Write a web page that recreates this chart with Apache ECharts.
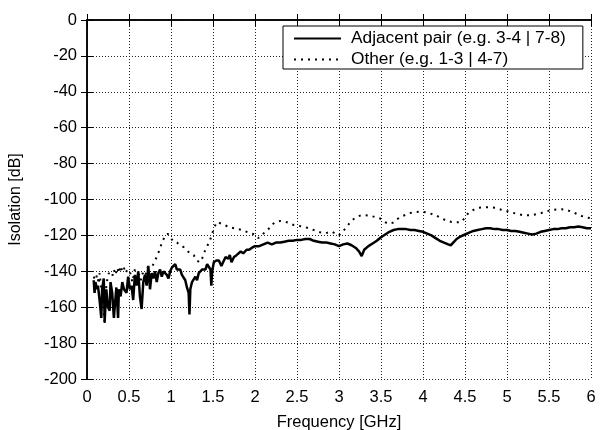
<!DOCTYPE html>
<html>
<head>
<meta charset="utf-8">
<script src="https://cdn.jsdelivr.net/npm/echarts@6/dist/echarts.min.js"></script>
<style>html,body{margin:0;padding:0;background:#fff}#c{width:600px;height:430px}</style>
</head>
<body>
<div id="c"></div>
<script>
// Frequency (GHz) and isolation (dB) for "Adjacent pair"
const adjFreq = [0.08,0.09,0.10,0.12,0.13,0.15,0.17,0.18,0.20,0.21,0.23,0.25,0.27,0.28,0.30,0.32,0.33,0.35,0.37,0.38,0.40,0.42,0.44,0.47,0.49,0.51,0.53,0.55,0.57,0.59,0.61,0.63,0.65,0.67,0.69,0.71,0.73,0.75,0.77,0.79,0.81,0.83,0.85,0.87,0.89,0.91,0.93,0.95,0.97,0.99,1.01,1.03,1.05,1.07,1.09,1.11,1.13,1.15,1.17,1.19,1.21,1.22,1.23,1.25,1.27,1.29,1.31,1.33,1.35,1.37,1.39,1.41,1.43,1.45,1.47,1.48,1.49,1.51,1.54,1.57,1.60,1.62,1.65,1.68,1.70,1.72,1.75,1.78,1.80,1.83,1.86,1.90,1.93,1.96,2.00,2.05,2.10,2.15,2.20,2.25,2.30,2.35,2.40,2.45,2.50,2.55,2.60,2.65,2.70,2.75,2.80,2.85,2.90,2.95,3.00,3.05,3.10,3.15,3.20,3.24,3.27,3.30,3.35,3.40,3.45,3.50,3.55,3.60,3.65,3.70,3.75,3.80,3.85,3.90,3.95,4.00,4.05,4.10,4.15,4.20,4.25,4.30,4.33,4.36,4.40,4.45,4.50,4.55,4.60,4.65,4.70,4.75,4.80,4.85,4.90,4.95,5.00,5.05,5.10,5.15,5.20,5.25,5.30,5.35,5.40,5.45,5.50,5.55,5.60,5.65,5.70,5.75,5.80,5.85,5.90,5.95,6.00];
const adjIso = [-145,-152,-146,-150,-148,-156,-166,-150,-144,-168,-150,-160,-162,-146,-152,-166,-160,-149,-166,-150,-154,-146,-150,-152,-143,-150,-148,-156,-142,-148,-140,-154,-161,-146,-142,-148,-137,-150,-141,-144,-140,-146,-141,-139,-143,-140,-141,-142,-144,-140,-138,-137,-136,-139,-138,-139,-142,-141,-145,-149,-152,-164,-150,-146,-147,-143,-145,-141,-142,-139,-138,-139,-136,-137,-139,-148,-140,-135,-134,-134,-137,-135,-132,-133,-131,-135,-132,-131,-130,-129,-130,-128,-128,-127,-126,-126,-125,-124,-125,-124,-124,-123.5,-123,-123,-122.5,-122.5,-122,-122,-123,-123.5,-124,-124,-124.5,-125,-126,-125,-124.5,-125.5,-127,-129,-131.5,-128,-126,-124.5,-123,-121,-119.5,-118,-117,-116.5,-116.5,-116.5,-117,-117,-117.5,-118,-119,-120,-121.5,-123,-124,-125,-125.5,-124,-122,-120.5,-119.5,-118.5,-117.5,-117,-116.5,-116,-116,-116.5,-116.5,-117,-117,-117.5,-117.5,-118,-118.5,-119,-119.5,-119,-118,-117.5,-117,-116.5,-116.5,-116,-116,-115.5,-115.5,-115,-115.5,-116,-116];

// Frequency (GHz) and isolation (dB) for "Other"
const othFreq = [0.08,0.10,0.12,0.14,0.15,0.17,0.19,0.21,0.22,0.24,0.26,0.28,0.30,0.32,0.34,0.36,0.38,0.40,0.42,0.44,0.46,0.48,0.51,0.54,0.57,0.59,0.62,0.64,0.66,0.69,0.72,0.75,0.78,0.81,0.84,0.87,0.90,0.93,0.96,0.99,1.03,1.07,1.11,1.15,1.19,1.23,1.27,1.31,1.34,1.37,1.40,1.43,1.46,1.49,1.52,1.55,1.60,1.65,1.70,1.75,1.80,1.85,1.90,1.95,2.00,2.04,2.08,2.12,2.16,2.20,2.25,2.30,2.35,2.40,2.46,2.52,2.58,2.64,2.70,2.76,2.81,2.86,2.91,2.96,3.00,3.04,3.08,3.12,3.16,3.20,3.25,3.31,3.37,3.43,3.49,3.54,3.59,3.64,3.69,3.74,3.79,3.85,3.91,3.98,4.04,4.10,4.16,4.22,4.28,4.34,4.40,4.46,4.50,4.54,4.60,4.66,4.72,4.78,4.84,4.90,4.95,5.00,5.06,5.12,5.18,5.24,5.29,5.35,5.41,5.47,5.53,5.59,5.65,5.71,5.77,5.83,5.89,5.95,6.00];
const othIso = [-143,-145,-142,-147,-141,-150,-155,-170,-152,-145,-141,-140,-143,-139,-142,-138,-141,-137,-140,-138,-141,-139,-140,-146,-139,-138,-142,-145,-141,-143,-138,-136.5,-137,-134,-131,-127,-123,-120.5,-119,-121,-123.5,-124,-125.5,-126.5,-128.5,-130,-131,-134,-135,-133,-129,-126,-123.5,-119,-115,-112.5,-113.5,-114.5,-115.5,-116,-116.5,-117,-118,-118.8,-119.5,-121.5,-120,-118,-116.5,-114,-112.5,-112,-112.3,-113,-114.2,-114.8,-115.1,-116,-117,-118,-118.8,-118.5,-117.9,-119,-120,-118,-116,-113.5,-111.4,-110,-109,-108.8,-109,-109.8,-110.6,-112.5,-113.5,-113,-111,-109.5,-108.6,-107.5,-107,-106.8,-107.2,-108,-109,-110.5,-111.8,-112.5,-112.7,-112.5,-110,-107.5,-105.8,-104.6,-104.4,-104.3,-104.5,-105.2,-106,-106.5,-107.3,-108,-108.6,-108.8,-108.8,-108.2,-107.5,-106.6,-105.9,-105.6,-105.4,-105.8,-106.8,-108,-109.2,-110,-110.5];

const seriesNames = ['Adjacent pair (e.g. 3-4 | 7-8)', 'Other (e.g. 1-3 | 4-7)'];
const xTicks = {min: 0, max: 6, step: 0.5};
const yTicks = {min: -200, max: 0, step: 20};

const FONT = '"Liberation Sans", Arial, sans-serif';
const adjData = adjFreq.map((f, i) => [f, adjIso[i]]);
const othData = othFreq.map((f, i) => [f, othIso[i]]);

const chart = echarts.init(document.getElementById('c'), null, {renderer: 'canvas'});
const gridLine = {show: true, lineStyle: {color: '#222', type: [1, 2], width: 1}};
const axLine = {show: true, lineStyle: {color: '#000', width: 1.5}};
const tick = {show: true, inside: true, length: 6, lineStyle: {color: '#000', width: 1}};
chart.setOption({
  animation: false,
  backgroundColor: '#fff',
  grid: {left: 87, right: 9, top: 20, bottom: 51, containLabel: false, outerBoundsMode: 'none'},
  legend: {
    data: seriesNames,
    orient: 'vertical',
    left: 283, top: 26,
    padding: [4, 17, 1, 10],
    itemGap: 4,
    itemWidth: 47, itemHeight: 14,
    itemStyle: {opacity: 0},
    backgroundColor: '#fff',
    borderColor: '#000', borderWidth: 1, borderRadius: 0,
    textStyle: {fontFamily: FONT, fontSize: 17.3, color: '#000', padding: [0, 0, 0, 5]}
  },
  xAxis: [
    {type: 'value', min: xTicks.min, max: xTicks.max, interval: xTicks.step,
     name: 'Frequency [GHz]', nameLocation: 'middle', nameGap: 35,
     nameTextStyle: {fontFamily: FONT, fontSize: 16.5, color: '#000'},
     axisLine: axLine, axisTick: tick, splitLine: gridLine,
     axisLabel: {fontFamily: FONT, fontSize: 16.5, color: '#000', margin: 10}},
    {type: 'value', position: 'top', min: xTicks.min, max: xTicks.max, interval: xTicks.step,
     axisLine: axLine, axisTick: tick, splitLine: {show: false}, axisLabel: {show: false}}
  ],
  yAxis: [
    {type: 'value', min: yTicks.min, max: yTicks.max, interval: yTicks.step,
     name: 'Isolation [dB]', nameLocation: 'middle', nameGap: 63,
     nameTextStyle: {fontFamily: FONT, fontSize: 16, color: '#000'},
     axisLine: axLine, axisTick: tick, splitLine: gridLine,
     axisLabel: {fontFamily: FONT, fontSize: 16.5, color: '#000', margin: 10}},
    {type: 'value', position: 'right', min: yTicks.min, max: yTicks.max, interval: yTicks.step,
     axisLine: axLine, axisTick: tick, splitLine: {show: false}, axisLabel: {show: false}}
  ],
  series: [
    {name: seriesNames[0], type: 'line', data: adjData, symbol: 'none',
     lineStyle: {color: '#000', width: 2.5}, itemStyle: {color: '#000'}, z: 3},
    {name: seriesNames[1], type: 'line', data: othData, symbol: 'none',
     lineStyle: {color: '#000', width: 2, type: [2, 5]}, itemStyle: {color: '#000'}, z: 2}
  ]
});
</script>
</body>
</html>
